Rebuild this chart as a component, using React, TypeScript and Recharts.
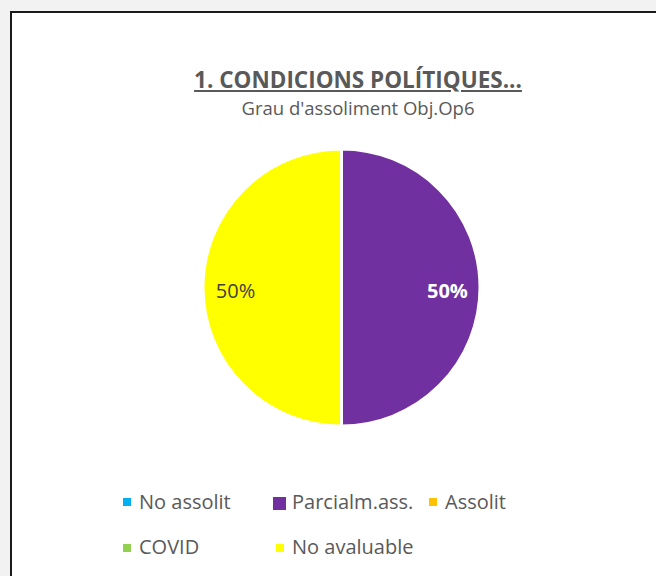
import { PieChart, Pie, Cell, Legend } from 'recharts'

const categories = ['No assolit', 'Parcialm.ass.', 'Assolit', 'COVID', 'No avaluable']
const values = [0, 1, 0, 0, 1]
const COLORS = ['#00b0f0', '#7030a0', '#ffc000', '#92d050', '#ffff00']
const LABEL_COLORS = ['#404040', '#ffffff', '#404040', '#404040', '#404040']

const chartData = categories.map((name, i) => ({ name, value: values[i] }))

const FONT = '"Open Sans", "Noto Sans", sans-serif'
const TEXT = '#595959'
const RAD = Math.PI / 180

// percent labels inside the slices
function renderLabel(props: any) {
  const { cx, cy, midAngle, outerRadius, percent, index } = props
  if (!values[index]) return null
  const r = outerRadius * 0.765
  const x = cx + r * Math.cos(-midAngle * RAD)
  const y = cy + r * Math.sin(-midAngle * RAD)
  const white = LABEL_COLORS[index] === '#ffffff'
  return (
    <text
      x={x}
      y={y + 3}
      fill={LABEL_COLORS[index]}
      textAnchor="middle"
      dominantBaseline="central"
      fontFamily={FONT}
      fontSize={20}
      fontWeight={white ? 700 : 400}
    >
      {`${Math.round(percent * 100)}%`}
    </text>
  )
}

// legend slots: box left/top/size, text left, row centre
const legendSlots = [
  { bx: 123, by: 498, box: 8, tx: 139, cy: 502 },
  { bx: 273, by: 497, box: 13, tx: 292, cy: 502 },
  { bx: 429, by: 498, box: 8, tx: 445, cy: 502 },
  { bx: 123, by: 544, box: 8, tx: 139, cy: 547.5 },
  { bx: 276, by: 544, box: 8, tx: 292, cy: 547.5 }
]

function LegendContent() {
  return (
    <div style={{ position: 'relative', width: 656, height: 576 }}>
      {categories.map((name, i) => {
        const s = legendSlots[i]
        return (
          <div key={name}>
            <span
              style={{
                position: 'absolute',
                left: s.bx,
                top: s.by,
                width: s.box,
                height: s.box,
                background: COLORS[i]
              }}
            />
            <span
              style={{
                position: 'absolute',
                left: s.tx,
                top: s.cy - 14.5,
                lineHeight: '28px',
                fontFamily: FONT,
                fontSize: 20,
                color: TEXT,
                whiteSpace: 'nowrap'
              }}
            >
              {name}
            </span>
          </div>
        )
      })}
    </div>
  )
}

export default function App() {
  return (
    <div
      style={{
        position: 'fixed',
        left: 0,
        top: 0,
        width: 656,
        height: 576,
        background: '#f2f2f2',
        overflow: 'hidden'
      }}
    >
      <div
        style={{
          position: 'absolute',
          left: 10,
          top: 11,
          width: 700,
          height: 620,
          background: '#ffffff',
          borderLeft: '2px solid #1a1a1a',
          borderTop: '2px solid #1a1a1a'
        }}
      />
      <div
        style={{
          position: 'absolute',
          left: 0,
          width: 716,
          top: 64.8,
          textAlign: 'center',
          fontFamily: FONT,
          color: TEXT,
          fontSize: 22.5,
          fontWeight: 700,
          lineHeight: '30px',
          textDecoration: 'underline'
        }}
      >
        1. CONDICIONS POLÍTIQUES...
      </div>
      <div
        style={{
          position: 'absolute',
          left: 0,
          width: 716,
          top: 95,
          textAlign: 'center',
          fontFamily: FONT,
          color: TEXT,
          fontSize: 18.5,
          lineHeight: '26px'
        }}
      >
        Grau d'assoliment Obj.Op6
      </div>
      <PieChart
        width={656}
        height={576}
        margin={{ top: 0, right: 0, bottom: 0, left: 0 }}
        style={{ position: 'absolute', left: 0, top: 0 }}
      >
        <Pie
          data={chartData}
          dataKey="value"
          nameKey="name"
          cx={341.5}
          cy={287.5}
          outerRadius={138.5}
          startAngle={90}
          endAngle={-270}
          stroke="#ffffff"
          strokeWidth={3}
          labelLine={false}
          label={renderLabel}
          isAnimationActive={false}
        >
          {chartData.map((entry, index) => (
            <Cell key={`cell-${index}`} fill={COLORS[index]} />
          ))}
        </Pie>
        <Legend
          verticalAlign="bottom"
          align="left"
          wrapperStyle={{ left: 0, top: 0, width: 656, height: 576, pointerEvents: 'none' }}
          content={() => <LegendContent />}
        />
      </PieChart>
    </div>
  )
}
